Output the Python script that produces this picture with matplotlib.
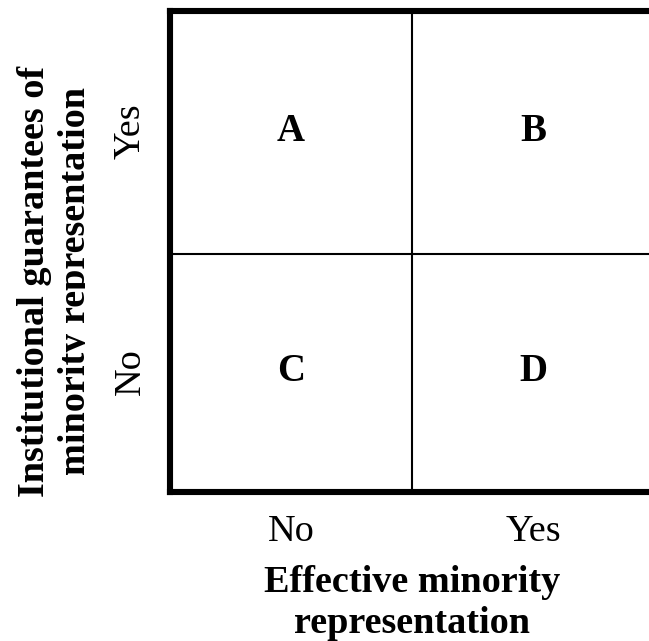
import matplotlib
matplotlib.use("Agg")
import matplotlib.pyplot as plt
from matplotlib.transforms import Bbox, TransformedBbox

plt.rcParams['font.family'] = ['Liberation Serif', 'DejaVu Serif']

# 2x2 typology
col_labels = ['No', 'Yes']          # effective minority representation
row_labels = ['No', 'Yes']          # institutional guarantees (bottom to top)
cell_labels = [['C', 'D'],          # bottom row
               ['A', 'B']]          # top row
x_title = 'Effective minority\nrepresentation'
y_title = 'Institutional guarantees of\nminority representation'

fig = plt.figure(figsize=(6.49, 6.41), dpi=100)
ax = fig.add_axes([170 / 649, 149 / 641, 484 / 649, 481 / 641])

ax.set_xlim(0, len(col_labels))
ax.set_ylim(0, len(row_labels))

for s in ax.spines.values():
    s.set_linewidth(4.4)
    s.set_color('black')

ax.axvline(1, color='black', lw=1.5)
ax.axhline(0.99, color='black', lw=1.5)

for r, row in enumerate(cell_labels):
    for c, lab in enumerate(row):
        ax.text(c + 0.5, r + 0.5, lab, ha='center', va='center',
                fontsize=28, fontweight='bold')

ax.set_xticks([i + 0.5 for i in range(len(col_labels))])
ax.set_xticklabels(col_labels, fontsize=27.5)
ax.set_yticks([i + 0.5 for i in range(len(row_labels))])
ax.set_yticklabels(row_labels, fontsize=27.5, rotation=90, va='center')
ax.tick_params(axis='x', length=0, pad=16)
ax.tick_params(axis='y', length=0, pad=16)

ax.set_xlabel(x_title, fontsize=27.5, fontweight='bold', labelpad=12,
              linespacing=1.2)

# y title: second line is partly cut off in the original
clip = TransformedBbox(Bbox([[0, 0], [85 / 649, 1]]), fig.transFigure)
yt = fig.text(55 / 649, 1 - 281 / 641, y_title, rotation=90, ha='center',
              va='center', multialignment='center', fontsize=27.5,
              fontweight='bold', linespacing=1.2)
yt.set_clip_box(clip)
yt.set_clip_on(True)

fig.savefig('out.png', dpi=100)
